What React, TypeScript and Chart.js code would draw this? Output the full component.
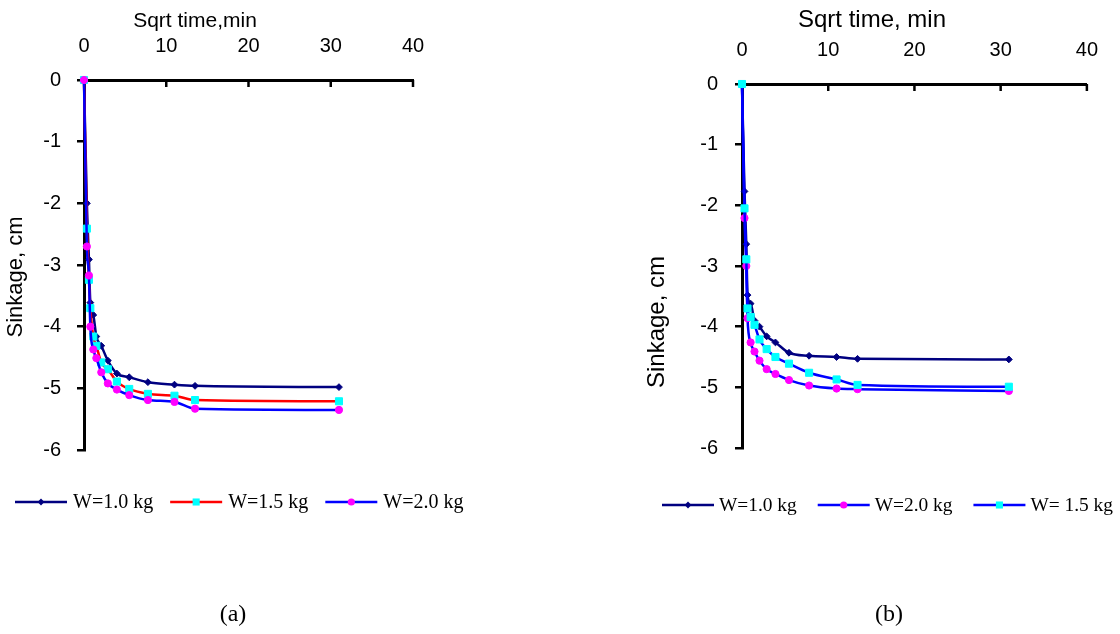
import React, { useEffect, useRef } from 'react';
import { Chart, registerables } from 'chart.js';

Chart.register(...registerables);

// ---------- data ----------
const xTickValues = [0, 10, 20, 30, 40];
const yTickValues = [0, -1, -2, -3, -4, -5, -6];

// chart (a)
const sqrtTimeA = [0, 0.35, 0.6, 0.77, 1.13, 1.5, 2.1, 2.9, 4.0, 5.5, 7.77, 11.0, 13.5, 31.0];
const sinkA_W10 = [0, -2.0, -2.91, -3.61, -3.81, -4.16, -4.31, -4.55, -4.76, -4.82, -4.9, -4.94, -4.96, -4.98];
const sinkA_W15 = [0, -2.41, -3.24, -3.7, -4.16, -4.31, -4.58, -4.69, -4.89, -5.01, -5.09, -5.12, -5.19, -5.21];
const sinkA_W20 = [0, -2.7, -3.17, -4.0, -4.37, -4.51, -4.74, -4.92, -5.02, -5.11, -5.19, -5.22, -5.33, -5.35];
const labelsA = ['W=1.0 kg', 'W=1.5 kg', 'W=2.0 kg'];

// chart (b)
const sqrtTimeB = [0, 0.29, 0.5, 0.64, 1.0, 1.45, 2.03, 2.86, 3.88, 5.45, 7.78, 10.97, 13.4, 30.95];
const sinkB_W10 = [0, -1.77, -2.64, -3.48, -3.62, -3.9, -4.0, -4.16, -4.26, -4.43, -4.48, -4.5, -4.53, -4.54];
const sinkB_W20 = [0, -2.21, -3.0, -3.86, -4.26, -4.41, -4.56, -4.7, -4.78, -4.88, -4.97, -5.02, -5.03, -5.06];
const sinkB_W15 = [0, -2.05, -2.89, -3.7, -3.84, -3.97, -4.21, -4.37, -4.5, -4.61, -4.76, -4.87, -4.96, -4.99];
const labelsB = ['W=1.0 kg', 'W=2.0 kg', 'W= 1.5 kg'];

// ---------- helpers ----------
const SANS = '"Liberation Sans", Arial, sans-serif';
const SERIF = '"Liberation Serif", "Times New Roman", serif';

type Style = { line: string; marker: string; shape: 'rectRot' | 'rect' | 'circle'; radius: number };

const NAVY: Style = { line: '#000080', marker: '#000080', shape: 'rectRot', radius: 3.4 };
const RED_CYAN: Style = { line: '#FF0000', marker: '#00FFFF', shape: 'rect', radius: 5 };
const BLUE_MAGENTA: Style = { line: '#0000FF', marker: '#FF00FF', shape: 'circle', radius: 3.6 };
const BLUE_CYAN: Style = { line: '#0000FF', marker: '#00FFFF', shape: 'rect', radius: 5 };

function pts(xs: number[], ys: number[]) {
  return xs.map((x, i) => ({ x, y: ys[i] }));
}

function makeDataset(label: string, xs: number[], ys: number[], st: Style, order: number) {
  return {
    label,
    data: pts(xs, ys),
    borderColor: st.line,
    backgroundColor: st.marker,
    borderWidth: 2.5,
    pointStyle: st.shape,
    pointRadius: st.radius,
    pointBackgroundColor: st.marker,
    pointBorderColor: st.marker,
    pointBorderWidth: 1,
    cubicInterpolationMode: 'monotone',
    fill: false,
    clip: false,
    order,
    _st: st,
  } as any;
}

function drawMarker(ctx: CanvasRenderingContext2D, st: Style, x: number, y: number) {
  ctx.fillStyle = st.marker;
  ctx.beginPath();
  if (st.shape === 'circle') {
    ctx.arc(x, y, st.radius, 0, Math.PI * 2);
  } else if (st.shape === 'rect') {
    const s = st.radius * Math.SQRT1_2;
    ctx.rect(x - s, y - s, 2 * s, 2 * s);
  } else {
    const r = st.radius;
    ctx.moveTo(x, y - r);
    ctx.lineTo(x + r, y);
    ctx.lineTo(x, y + r);
    ctx.lineTo(x - r, y);
    ctx.closePath();
  }
  ctx.fill();
}

const decorPlugin = {
  id: 'decor',
  afterDraw(chart: any, _args: any, opts: any) {
    const ctx: CanvasRenderingContext2D = chart.ctx;
    const xs = chart.scales.x;
    const area = chart.chartArea;
    ctx.save();
    // inward tick marks on top axis
    ctx.strokeStyle = '#000';
    ctx.lineWidth = 2.5;
    xs.ticks.forEach((t: any) => {
      if (t.value === 0) return;
      const px = xs.getPixelForValue(t.value);
      ctx.beginPath();
      ctx.moveTo(px, area.top);
      ctx.lineTo(px, area.top + 7);
      ctx.stroke();
    });
    // axis titles
    ctx.fillStyle = '#000';
    ctx.textAlign = 'center';
    ctx.textBaseline = 'alphabetic';
    ctx.font = `${opts.xTitleSize}px ${SANS}`;
    ctx.fillText(opts.xTitle, opts.xTitleX, opts.xTitleY);
    ctx.save();
    ctx.translate(opts.yTitleX, opts.yTitleY);
    ctx.rotate(-Math.PI / 2);
    ctx.textBaseline = 'middle';
    ctx.font = `${opts.yTitleSize}px ${SANS}`;
    ctx.fillText(opts.yTitle, 0, 0);
    ctx.restore();
    // legend
    ctx.font = `${opts.legendSize}px ${SERIF}`;
    ctx.textAlign = 'left';
    ctx.textBaseline = 'middle';
    let x = opts.legendX;
    const y = opts.legendY;
    chart.data.datasets.forEach((ds: any) => {
      const st: Style = ds._st;
      ctx.strokeStyle = st.line;
      ctx.lineWidth = 2.5;
      ctx.beginPath();
      ctx.moveTo(x, y);
      ctx.lineTo(x + opts.legendLine, y);
      ctx.stroke();
      drawMarker(ctx, st, x + opts.legendLine / 2, y);
      const tx = x + opts.legendLine + opts.legendTextGap;
      ctx.fillStyle = '#000';
      ctx.fillText(ds.label, tx, y + 1);
      x = tx + ctx.measureText(ds.label).width + opts.legendItemGap;
    });
    // panel caption
    ctx.textAlign = 'center';
    ctx.textBaseline = 'alphabetic';
    ctx.font = `${opts.captionSize}px ${SERIF}`;
    ctx.fillText(opts.caption, opts.captionX, opts.captionY);
    ctx.restore();
  },
};

function buildConfig(p: {
  datasets: any[];
  yAxisWidth: number;
  xAxisHeight: number;
  padRight: number;
  padBottom: number;
  xLabelPad: number;
  yLabelPad: number;
  decor: any;
}) {
  return {
    type: 'line',
    data: { datasets: p.datasets },
    plugins: [decorPlugin],
    options: {
      responsive: false,
      animation: false,
      events: [],
      layout: { padding: { left: 0, top: 0, right: p.padRight, bottom: p.padBottom } },
      plugins: {
        legend: { display: false },
        tooltip: { enabled: false },
        decor: p.decor,
      },
      scales: {
        x: {
          type: 'linear',
          position: 'top',
          min: 0,
          max: 40,
          afterBuildTicks: (s: any) => {
            s.ticks = xTickValues.map((v) => ({ value: v }));
          },
          afterFit: (s: any) => {
            s.height = p.xAxisHeight;
          },
          ticks: {
            color: '#000',
            font: { family: SANS, size: 20 },
            padding: p.xLabelPad,
            maxRotation: 0,
            autoSkip: false,
          },
          grid: { drawOnChartArea: false, drawTicks: false },
          border: { display: true, color: '#000', width: 3 },
        },
        y: {
          type: 'linear',
          min: -6,
          max: 0,
          afterBuildTicks: (s: any) => {
            s.ticks = yTickValues.map((v) => ({ value: v }));
          },
          afterFit: (s: any) => {
            s.width = p.yAxisWidth;
          },
          ticks: {
            color: '#000',
            font: { family: SANS, size: 20 },
            padding: p.yLabelPad,
            autoSkip: false,
          },
          grid: { drawOnChartArea: false, drawTicks: true, tickLength: 7, color: '#000', lineWidth: 2.5 },
          border: { display: true, color: '#000', width: 3 },
        },
      },
    },
  } as any;
}

function ChartCanvas({ config }: { config: any }) {
  const ref = useRef<HTMLCanvasElement | null>(null);
  useEffect(() => {
    if (!ref.current) return;
    const c = new Chart(ref.current, config);
    return () => c.destroy();
  }, [config]);
  return <canvas ref={ref} width={560} height={634} style={{ display: 'block', width: 560, height: 634 }} />;
}

const configA = buildConfig({
  datasets: [
    makeDataset(labelsA[0], sqrtTimeA, sinkA_W10, NAVY, 2),
    makeDataset(labelsA[1], sqrtTimeA, sinkA_W15, RED_CYAN, 1),
    makeDataset(labelsA[2], sqrtTimeA, sinkA_W20, BLUE_MAGENTA, 0),
  ],
  yAxisWidth: 84,
  xAxisHeight: 80,
  padRight: 147,
  padBottom: 184,
  xLabelPad: 22,
  yLabelPad: 16,
  decor: {
    xTitle: 'Sqrt time,min',
    xTitleSize: 21,
    xTitleX: 195,
    xTitleY: 27,
    yTitle: 'Sinkage, cm',
    yTitleSize: 22,
    yTitleX: 16,
    yTitleY: 277,
    legendSize: 20,
    legendX: 15,
    legendY: 502,
    legendLine: 52,
    legendTextGap: 6,
    legendItemGap: 17,
    caption: '(a)',
    captionSize: 24,
    captionX: 233,
    captionY: 621,
  },
});

const configB = buildConfig({
  datasets: [
    makeDataset(labelsB[0], sqrtTimeB, sinkB_W10, NAVY, 2),
    makeDataset(labelsB[1], sqrtTimeB, sinkB_W20, BLUE_MAGENTA, 1),
    makeDataset(labelsB[2], sqrtTimeB, sinkB_W15, BLUE_CYAN, 0),
  ],
  yAxisWidth: 182,
  xAxisHeight: 84,
  padRight: 17,
  padBottom: 186,
  xLabelPad: 22,
  yLabelPad: 17,
  decor: {
    xTitle: 'Sqrt time, min',
    xTitleSize: 24,
    xTitleX: 312,
    xTitleY: 27,
    yTitle: 'Sinkage, cm',
    yTitleSize: 24,
    yTitleX: 97,
    yTitleY: 322,
    legendSize: 19.4,
    legendX: 102,
    legendY: 505,
    legendLine: 52,
    legendTextGap: 5,
    legendItemGap: 21,
    caption: '(b)',
    captionSize: 24,
    captionX: 329,
    captionY: 621,
  },
});

export default function App() {
  return (
    <div style={{ position: 'absolute', left: 0, top: 0, width: 1120, height: 634, background: '#fff', display: 'flex' }}>
      <ChartCanvas config={configA} />
      <ChartCanvas config={configB} />
    </div>
  );
}
